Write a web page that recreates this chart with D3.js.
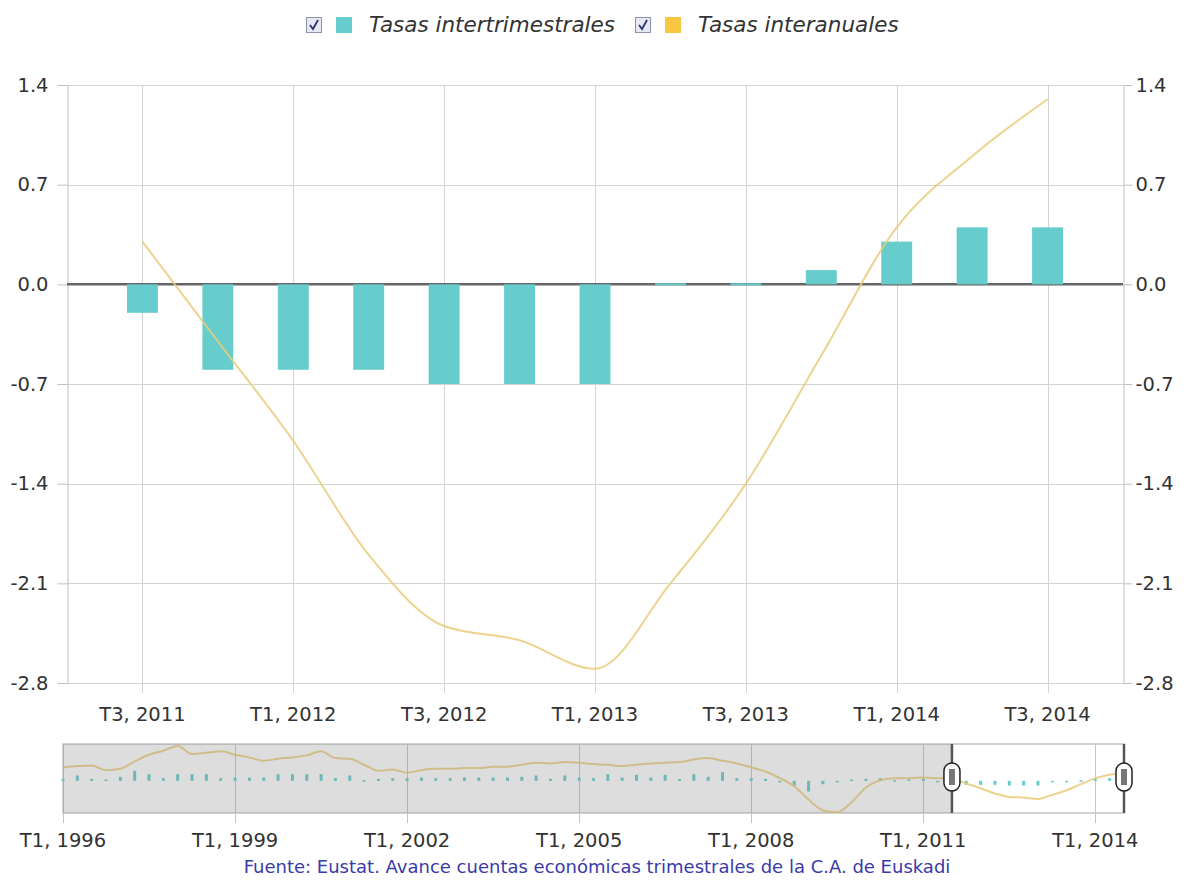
<!DOCTYPE html>
<html>
<head>
<meta charset="utf-8">
<script src="https://cdnjs.cloudflare.com/ajax/libs/d3/7.8.5/d3.min.js"></script>
<style>
	body { margin: 0; background: #fff; }
	svg text { font-family: 'DejaVu Sans', Verdana, sans-serif; }
</style>
</head>
<body>
<svg id="chart" width="1188" height="889"></svg>
<script>
// main view: T3 2011 - T3 2014
const quarters = ['T3, 2011', 'T4, 2011', 'T1, 2012', 'T2, 2012', 'T3, 2012', 'T4, 2012', 'T1, 2013', 'T2, 2013', 'T3, 2013', 'T4, 2013', 'T1, 2014', 'T2, 2014', 'T3, 2014'];
const tasasIntertrimestrales = [-0.2, -0.6, -0.6, -0.6, -0.7, -0.7, -0.7, 0.0, 0.0, 0.1, 0.3, 0.4, 0.4];
const tasasInteranuales = [0.3, -0.4, -1.1, -1.9, -2.4, -2.5, -2.7, -2.1, -1.4, -0.5, 0.4, 0.9, 1.3];
const yTicks = [1.4, 0.7, 0.0, -0.7, -1.4, -2.1, -2.8];

// navigator history: T1 1996 - T2 2011
const histIntertrimestrales = [
	0.3, 0.8, 0.3, 0.2, 0.6, 1.5, 1.0, 0.4, 1.0, 1.0, 1.0, 0.4,
	0.5, 0.5, 0.5, 1.0, 1.0, 1.0, 1.0, 0.4, 0.8, 0.1, 0.3, 0.4,
	0.4, 0.5, 0.4, 0.4, 0.5, 0.5, 0.5, 0.5, 0.6, 0.8, 0.3, 0.8,
	0.5, 0.4, 1.0, 0.5, 0.9, 0.5, 0.9, 0.3, 1.0, 0.6, 1.3, 0.4,
	0.4, 0.3, 0.0, -0.7, -1.6, -0.5, -0.2, 0.2, 0.3, 0.4, 0.1, 0.2,
	0.3, 0.0
];
const histInteranuales = [
	2.0, 2.2, 2.3, 1.6, 1.8, 2.9, 3.9, 4.5, 5.2, 4.0, 4.2, 4.4,
	3.9, 3.5, 3.0, 3.3, 3.5, 3.8, 4.4, 3.4, 3.3, 2.4, 1.5, 1.7,
	1.2, 1.6, 1.8, 1.8, 1.9, 1.9, 2.1, 2.1, 2.4, 2.7, 2.6, 2.8,
	2.7, 2.5, 2.4, 2.2, 2.4, 2.6, 2.7, 2.8, 3.2, 3.4, 3.0, 2.6,
	2.0, 1.4, 0.4, -0.8, -2.8, -4.4, -4.7, -3.2, -1.0, 0.1, 0.4, 0.4,
	0.5, 0.4
];
const navTickYears = [1996, 1999, 2002, 2005, 2008, 2011, 2014];

const seriesNames = ['Tasas intertrimestrales', 'Tasas interanuales'];
const seriesColors = ['#66cccc', '#f7c742'];
const fuente = 'Fuente: Eustat. Avance cuentas económicas trimestrales de la C.A. de Euskadi';

const navIntertrimestrales = histIntertrimestrales.concat(tasasIntertrimestrales);
const navInteranuales = histInteranuales.concat(tasasInteranuales);

const svg = d3.select('#chart');
const plot = { left: 67, right: 1123, top: 85, bottom: 683 };
const tickFont = '19.5px';

const x = d3.scalePoint().domain(quarters).range([plot.left, plot.right]).padding(1);
const y = d3.scaleLinear().domain([-2.8, 1.4]).range([plot.bottom, plot.top]);
const labelled = quarters.filter((q, i) => i % 2 === 0);
const fmt = (d) => d.toFixed(1);

// grid
svg.append('g')
	.selectAll('line')
	.data(yTicks)
	.join('line')
	.attr('x1', plot.left)
	.attr('x2', plot.right)
	.attr('y1', (d) => Math.round(y(d)) + 0.5)
	.attr('y2', (d) => Math.round(y(d)) + 0.5)
	.attr('stroke', '#d4d4d4');

svg.append('g')
	.selectAll('line')
	.data(labelled)
	.join('line')
	.attr('x1', (d) => Math.round(x(d)) + 0.5)
	.attr('x2', (d) => Math.round(x(d)) + 0.5)
	.attr('y1', plot.top)
	.attr('y2', plot.bottom + 10)
	.attr('stroke', '#d4d4d4');

// y axes, left and right
const styleAxis = (g) => {
	g.select('.domain').attr('stroke', '#c0c0c0');
	g.selectAll('.tick line').attr('stroke', '#c0c0c0');
	g.selectAll('.tick text').attr('fill', '#333').style('font-size', tickFont);
};

svg.append('g')
	.attr('transform', `translate(${plot.left + 0.5},0)`)
	.call(d3.axisLeft(y).tickValues(yTicks).tickFormat(fmt).tickSize(10).tickSizeOuter(0).tickPadding(9))
	.call(styleAxis);

svg.append('g')
	.attr('transform', `translate(${plot.right + 0.5},0)`)
	.call(d3.axisRight(y).tickValues(yTicks).tickFormat(fmt).tickSize(9).tickSizeOuter(0).tickPadding(3))
	.call(styleAxis);

// x axis labels
svg.append('g')
	.selectAll('text')
	.data(labelled)
	.join('text')
	.attr('x', (d) => x(d))
	.attr('y', 721)
	.attr('text-anchor', 'middle')
	.attr('fill', '#333')
	.style('font-size', tickFont)
	.text((d) => d);

// zero line
svg.append('line')
	.attr('x1', plot.left)
	.attr('x2', plot.right)
	.attr('y1', y(0))
	.attr('y2', y(0))
	.attr('stroke', '#666')
	.attr('stroke-width', 2.5);

// bars
const barW = x.step() * 0.41;
svg.append('g')
	.selectAll('rect')
	.data(quarters.map((q, i) => ({ q, v: tasasIntertrimestrales[i] })))
	.join('rect')
	.attr('x', (d) => x(d.q) - barW / 2)
	.attr('width', barW)
	.attr('y', (d) => (d.v === 0 ? y(0) - 1 : Math.min(y(0), y(d.v))))
	.attr('height', (d) => (d.v === 0 ? 2 : Math.abs(y(d.v) - y(0))))
	.attr('fill', seriesColors[0]);

// interanual line
const line = d3.line()
	.x((d) => x(d.q))
	.y((d) => y(d.v))
	.curve(d3.curveMonotoneX);

svg.append('path')
	.datum(quarters.map((q, i) => ({ q, v: tasasInteranuales[i] })))
	.attr('d', line)
	.attr('fill', 'none')
	.attr('stroke', '#e9cd7a')
	.attr('stroke-opacity', 0.85)
	.attr('stroke-width', 2);

// ---- navigator ----
const nav = { left: 63, right: 1124, top: 744, bottom: 813 };
const navX = d3.scaleLinear().domain([0, navInteranuales.length - 1]).range([nav.left, nav.right]);
const navY = d3.scaleLinear().domain([-4.8, 5.5]).range([nav.bottom, nav.top]);
const selFrom = histInteranuales.length;
const selTo = navInteranuales.length - 1;

svg.append('rect')
	.attr('x', nav.left)
	.attr('y', nav.top)
	.attr('width', nav.right - nav.left)
	.attr('height', nav.bottom - nav.top)
	.attr('fill', '#fff')
	.attr('stroke', '#c4c4c4')
	.attr('stroke-width', 1.5);

const navTicks = navTickYears.map((yr) => (yr - 1996) * 4);
svg.append('g')
	.selectAll('line')
	.data(navTicks)
	.join('line')
	.attr('x1', (d) => Math.round(navX(d)) + 0.5)
	.attr('x2', (d) => Math.round(navX(d)) + 0.5)
	.attr('y1', nav.top)
	.attr('y2', nav.bottom + 10)
	.attr('stroke', '#c4c4c4');

svg.append('g')
	.selectAll('rect')
	.data(navIntertrimestrales)
	.join('rect')
	.attr('x', (d, i) => navX(i) - 1.5)
	.attr('width', 3)
	.attr('y', (d) => Math.min(navY(0), navY(d)))
	.attr('height', (d) => Math.max(1.5, Math.abs(navY(d) - navY(0))))
	.attr('fill', seriesColors[0]);

svg.append('path')
	.datum(navInteranuales)
	.attr('d', d3.line().x((d, i) => navX(i)).y((d) => navY(d)).curve(d3.curveMonotoneX))
	.attr('fill', 'none')
	.attr('stroke', '#e9cd7a')
	.attr('stroke-opacity', 0.85)
	.attr('stroke-width', 2);

// mask over the part not shown above
svg.append('rect')
	.attr('x', nav.left)
	.attr('y', nav.top)
	.attr('width', navX(selFrom) - nav.left)
	.attr('height', nav.bottom - nav.top)
	.attr('fill', 'rgba(128,128,128,0.27)');

// handles
const handles = svg.append('g')
	.selectAll('g')
	.data([selFrom, selTo])
	.join('g')
	.attr('transform', (d) => `translate(${navX(d)},0)`);

handles.append('line')
	.attr('y1', nav.top)
	.attr('y2', nav.bottom)
	.attr('stroke', '#555')
	.attr('stroke-width', 2.5);

handles.append('rect')
	.attr('x', -8)
	.attr('y', 763)
	.attr('width', 16)
	.attr('height', 28)
	.attr('rx', 8)
	.attr('fill', '#fff')
	.attr('stroke', '#222')
	.attr('stroke-width', 1.5);

handles.append('rect')
	.attr('x', -3)
	.attr('y', 769)
	.attr('width', 6)
	.attr('height', 16)
	.attr('fill', '#777');

svg.append('g')
	.selectAll('text')
	.data(navTickYears)
	.join('text')
	.attr('x', (d) => navX((d - 1996) * 4))
	.attr('y', 847)
	.attr('text-anchor', 'middle')
	.attr('fill', '#333')
	.style('font-size', tickFont)
	.text((d) => 'T1, ' + d);

// source
svg.append('text')
	.attr('x', 597)
	.attr('y', 873)
	.attr('text-anchor', 'middle')
	.attr('fill', '#3a3aa8')
	.style('font-size', '18px')
	.text(fuente);

// ---- legend ----
const legend = svg.append('g').attr('transform', 'translate(306,0)');
let lx = 0;
seriesNames.forEach((name, i) => {
	const item = legend.append('g').attr('transform', `translate(${lx},0)`);
	item.append('rect')
		.attr('x', 0.5).attr('y', 17.5).attr('width', 15).attr('height', 15)
		.attr('fill', '#e6e9f4').attr('stroke', '#8d93a8');
	item.append('path')
		.attr('d', 'M4,25 L7,29 L12,20')
		.attr('fill', 'none').attr('stroke', '#2c3470').attr('stroke-width', 1.8);
	item.append('rect')
		.attr('x', 30).attr('y', 17).attr('width', 16).attr('height', 16)
		.attr('fill', seriesColors[i]);
	const t = item.append('text')
		.attr('x', 63)
		.attr('y', 32)
		.attr('fill', '#333')
		.style('font-size', '21.5px')
		.style('font-style', 'italic')
		.text(name);
	lx += 63 + t.node().getComputedTextLength() + 20;
});
</script>
</body>
</html>
